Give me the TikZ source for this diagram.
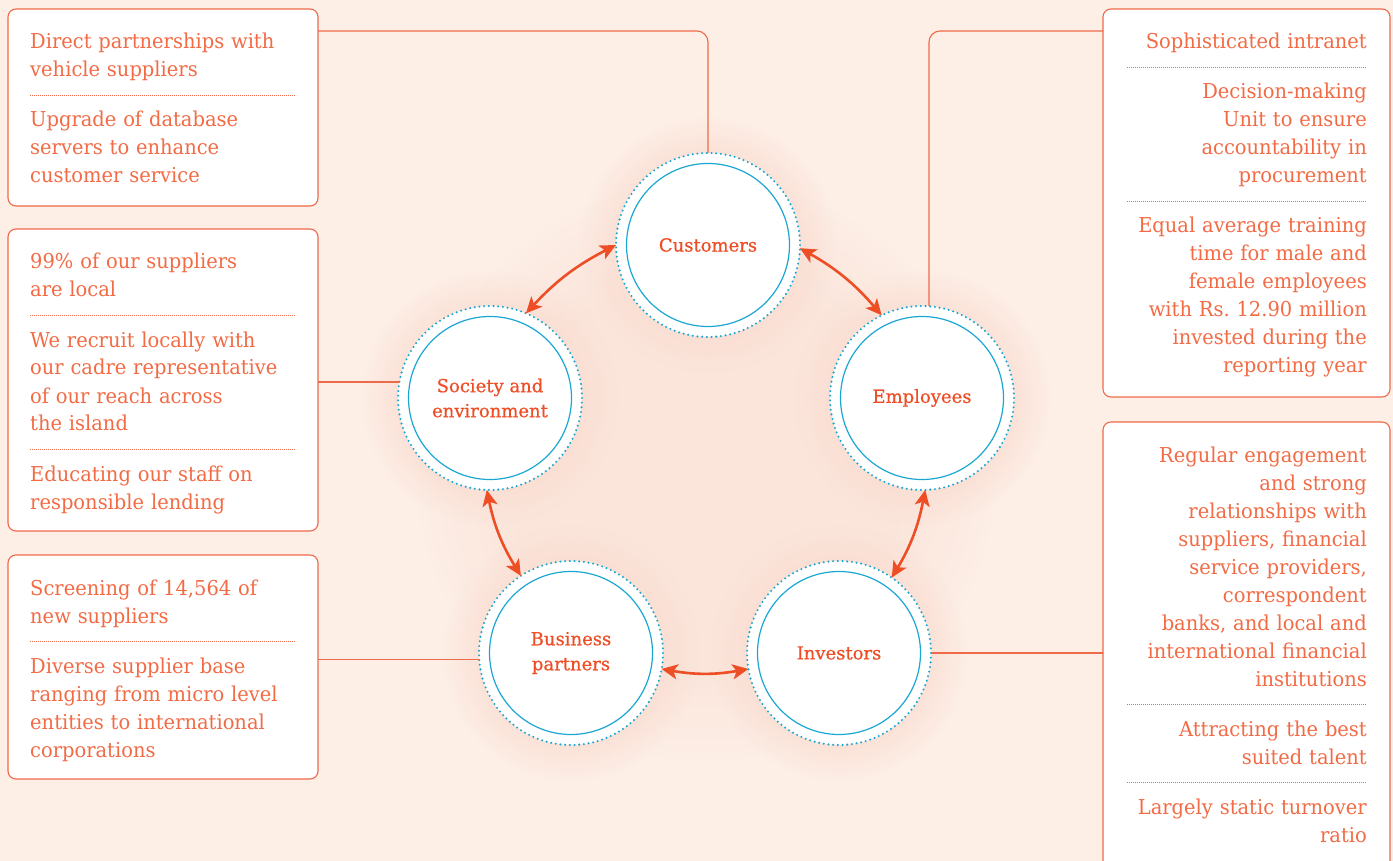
\documentclass[tikz,border=0pt]{standalone}
\usepackage{fontspec}
\setmainfont[FakeStretch=0.95]{DejaVu Serif}
\newfontfamily\labelfont[FakeBold=0.6]{DejaVu Serif}
\usetikzlibrary{arrows.meta,fadings}
\definecolor{bgc}{HTML}{FDEEE6}
\definecolor{glowc}{HTML}{FADBCF}
\definecolor{txtc}{HTML}{F26B45}
\definecolor{linec}{HTML}{EF6A48}
\definecolor{arrc}{HTML}{EE4E26}
\definecolor{bluec}{HTML}{1AA7D2}
\pgfdeclareradialshading{halosh}{\pgfpoint{0bp}{0bp}}{color(0bp)=(white); color(17bp)=(white); color(25bp)=(black); color(50bp)=(black)}
\pgfdeclarefading{halofade}{\pgfuseshading{halosh}}
\frenchspacing
\begin{document}
\begin{tikzpicture}[x=1pt,y=-1pt,
 box/.style={draw=linec, line width=1.1, fill=white, rounded corners=8, anchor=north west, inner sep=0, outer sep=0},
 ltxt/.style={anchor=base west, text width=300, align=left, inner sep=0, text=txtc, font=\fontsize{20.5}{28}\selectfont},
 rtxt/.style={anchor=base east, text width=300, align=right, inner sep=0, text=txtc, font=\fontsize{20.5}{28}\selectfont},
 sepline/.style={draw=linec, line width=0.8, dash pattern=on 1pt off 1pt},
 stake/.style={circle, minimum size=184, inner sep=0, outer sep=0, draw=bluec, line width=2.3, dash pattern=on 0pt off 4.7pt, line cap=round, fill=white, text=arrc, font=\labelfont\fontsize{18}{25}\selectfont, align=center},
 innerc/.style={draw=bluec, line width=1.2},
 conn/.style={draw=linec, line width=1.1, rounded corners=11},
 arr/.style={draw=arrc, line width=2.6, {Stealth[length=16,width=15,inset=4]}-{Stealth[length=16,width=15,inset=4]}},
]
\useasboundingbox (0,0) rectangle (1393,861);
\fill[bgc] (0,0) rectangle (1393,861);
\coordinate (pc) at (708,245);
\coordinate (ps) at (490,398);
\coordinate (pe) at (922,398);
\coordinate (pb) at (571,653);
\coordinate (pi) at (839,653);
\fill[glowc, opacity=0.45, path fading=halofade] (706,470) circle (290);
\foreach \p in {pc,ps,pe,pb,pi}{
  \fill[glowc, opacity=0.7, path fading=halofade] (\p) circle (128);
}
% boxes
\node[box, minimum width=310, minimum height=197] (box1) at (8,9) {};
\node[box, minimum width=310, minimum height=302] (box2) at (8,229) {};
\node[box, minimum width=310, minimum height=224] (box3) at (8,555) {};
\node[box, minimum width=287, minimum height=388] (box4) at (1103,9) {};
\node[box, minimum width=287, minimum height=460] (box5) at (1103,422) {};
% stakeholder circles
\node[stake] (cust) at (pc) {Customers};
\node[stake] (soc) at (ps) {Society and\\environment};
\node[stake] (emp) at (pe) {Employees};
\node[stake] (bus) at (pb) {Business\\partners};
\node[stake] (inv) at (pi) {Investors};
\foreach \n in {cust,soc,emp,bus,inv}{
  \draw[innerc] (\n) circle (81.5);
}
% connectors
\coordinate (c1) at (318,31);
\coordinate (c2) at (1103,31);
\draw[conn] (cust.north) |- (c1);
\draw[conn] ([xshift=7]emp.north) |- (c2);
\draw[conn] (soc.170) -- (soc.170 -| box2.east);
\draw[conn] (bus.184) -- (bus.184 -| box3.east);
\draw[conn] (inv.east) -- (inv.east -| box5.west);
% arrows
\draw[arr] (cust.180) to[bend right=10] (soc.67);
\draw[arr] (cust.-2) to[bend left=10] (emp.116);
\draw[arr] (soc.-92) to[bend right=10] (bus.123);
\draw[arr] (emp.-88) to[bend left=10] (inv.55);
\draw[arr] (bus.-10) to[bend right=10] (inv.190);
% texts box1
\node[ltxt] (t1a) at (30,49) {Direct partnerships with\\vehicle suppliers};
\draw[sepline] (30,95) -- (296,95);
\node[ltxt] (t1b) at (30,127) {Upgrade of database\\servers to enhance\\customer service};
% box2
\node[ltxt] (t2a) at (30,269) {99\% of our suppliers\\are local};
\draw[sepline] (30,315) -- (296,315);
\node[ltxt] (t2b) at (30,347) {We recruit locally with\\our cadre representative\\of our reach across\\the island};
\draw[sepline] (30,449) -- (296,449);
\node[ltxt] (t2c) at (30,481) {Educating our staff on\\responsible lending};
% box3
\node[ltxt] (t3a) at (30,595) {Screening of 14,564 of\\new suppliers};
\draw[sepline] (30,641) -- (296,641);
\node[ltxt] (t3b) at (30,673) {Diverse supplier base\\ranging from micro level\\entities to international\\corporations};
% box4
\node[rtxt] (t4a) at (1367,49) {Sophisticated intranet};
\draw[sepline] (1127,67) -- (1367,67);
\node[rtxt] (t4b) at (1367,99) {Decision-making\\Unit to ensure\\accountability in\\procurement};
\draw[sepline] (1127,201) -- (1367,201);
\node[rtxt] (t4c) at (1367,233) {Equal average training\\time for male and\\female employees\\with Rs. 12.90 million\\invested during the\\reporting year};
% box5
\node[rtxt] (t5a) at (1367,462) {Regular engagement\\and strong\\relationships with\\suppliers, financial\\service providers,\\correspondent\\banks, and local and\\international financial\\institutions};
\draw[sepline] (1127,704) -- (1367,704);
\node[rtxt] (t5b) at (1367,736) {Attracting the best\\suited talent};
\draw[sepline] (1127,782) -- (1367,782);
\node[rtxt] (t5c) at (1367,814) {Largely static turnover\\ratio};
\end{tikzpicture}
\end{document}
